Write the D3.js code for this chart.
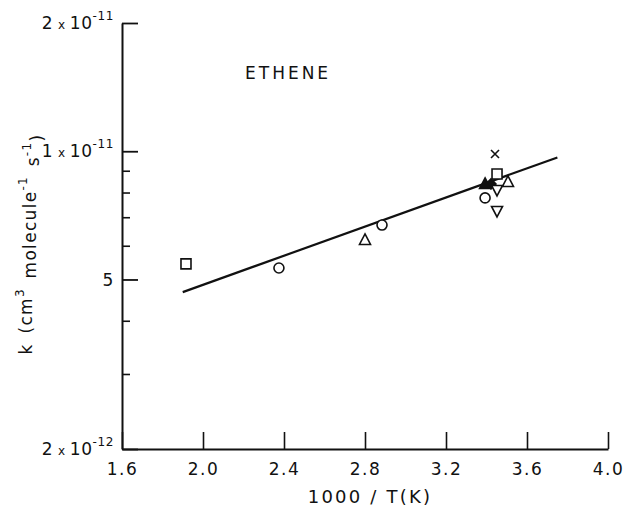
<!DOCTYPE html>
<html>
<head>
<meta charset="utf-8">
<script src="https://cdn.jsdelivr.net/npm/d3@7/dist/d3.min.js"></script>
<style>
  html, body { margin: 0; padding: 0; background: #fff; }
  svg { display: block; }
  text { font-family: "DejaVu Sans", sans-serif; fill: #111; }
</style>
</head>
<body>
<svg id="chart" width="639" height="508"></svg>
<script>
// Rate constants for OH + ethene versus inverse temperature
const invT   = [1.916, 2.375, 2.80, 2.884, 3.442, 3.452, 3.506, 3.393, 3.422, 3.452, 3.393, 3.452];
const kValue = [5.44e-12, 5.32e-12, 6.19e-12, 6.71e-12, 9.85e-12, 8.84e-12, 8.47e-12, 8.38e-12, 8.38e-12, 8.11e-12, 7.77e-12, 7.24e-12];
const marker = ["square", "circle", "triangle", "circle", "cross", "square", "triangle", "triangleFilled", "diamondFilled", "triangleDown", "circle", "triangleDown"];

// Least-squares Arrhenius line end points
const fitX = [1.90, 3.75];
const fitK = [4.67e-12, 9.67e-12];

const xTicks = [1.6, 2.0, 2.4, 2.8, 3.2, 3.6, 4.0];
const xTickLabels = ["1.6", "2.0", "2.4", "2.8", "3.2", "3.6", "4.0"];
const yMajor = [2e-11, 1e-11, 5e-12, 2e-12];
const yMinor = [9e-12, 8e-12, 7e-12, 6e-12, 4e-12, 3e-12];
const yLabels = [
  {v: 2e-11, m: "2", e: "-11"},
  {v: 1e-11, m: "1", e: "-11"},
  {v: 5e-12, m: "5", e: null},
  {v: 2e-12, m: "2", e: "-12"}
];

const svg = d3.select("#chart");
const x = d3.scaleLinear().domain([1.6, 4.0]).range([122, 608]);
const y = d3.scaleLog().domain([2e-12, 2e-11]).range([449, 23]);

// Axes: ticks point into the plot
const xAxis = d3.axisBottom(x).tickValues(xTicks)
  .tickFormat((d, i) => xTickLabels[i]).tickSize(-17).tickSizeOuter(0).tickPadding(14);
const gx = svg.append("g").attr("transform", "translate(0,449)").call(xAxis);
gx.select(".domain").attr("stroke", "#111").attr("stroke-width", 2);
gx.selectAll(".tick line").attr("stroke", "#111").attr("stroke-width", 1.6);
gx.selectAll(".tick text").attr("font-size", 17).attr("letter-spacing", 1.5)
  .style("font-family", "DejaVu Sans, sans-serif").attr("fill", "#111");

const yAxis = d3.axisRight(y).tickValues(yMajor).tickFormat("").tickSize(16).tickSizeOuter(0);
const gy = svg.append("g").attr("transform", "translate(122,0)").call(yAxis);
gy.select(".domain").attr("stroke", "#111").attr("stroke-width", 2);
gy.selectAll(".tick line").attr("stroke", "#111").attr("stroke-width", 1.8);

const yAxisMinor = d3.axisRight(y).tickValues(yMinor).tickFormat("").tickSize(8).tickSizeOuter(0);
const gy2 = svg.append("g").attr("transform", "translate(122,0)").call(yAxisMinor);
gy2.select(".domain").remove();
gy2.selectAll(".tick line").attr("stroke", "#111").attr("stroke-width", 1.6);

// Y tick labels in "m x 10^e" form
yLabels.forEach(l => {
  const t = svg.append("text")
    .attr("x", 114).attr("y", y(l.v)).attr("dy", "0.36em")
    .attr("text-anchor", "end").attr("font-size", 17).attr("letter-spacing", 0.6);
  t.append("tspan").text(l.m);
  if (l.e) {
    t.append("tspan").attr("font-size", 12).attr("dx", 5).text("x");
    t.append("tspan").attr("dx", 4).text("10");
    t.append("tspan").attr("font-size", 12).attr("dy", "-0.75em").text(l.e);
  }
});

// Axis titles
svg.append("text")
  .attr("x", 370).attr("y", 497).attr("dy", "0.36em")
  .attr("text-anchor", "middle").attr("font-size", 18).attr("letter-spacing", 2.2)
  .text("1000 / T(K)");

const yt = svg.append("text")
  .attr("transform", "translate(32,244) rotate(-90)")
  .attr("text-anchor", "middle").attr("font-size", 17).attr("letter-spacing", 1.3)
  .attr("word-spacing", 3);
yt.append("tspan").text("k (cm");
yt.append("tspan").attr("font-size", 12).attr("dy", "-0.7em").text("3");
yt.append("tspan").attr("dy", "0.7em").text(" molecule");
yt.append("tspan").attr("font-size", 12).attr("dy", "-0.7em").text("-1");
yt.append("tspan").attr("dy", "0.7em").text(" s");
yt.append("tspan").attr("font-size", 12).attr("dy", "-0.7em").text("-1");
yt.append("tspan").attr("dy", "0.7em").text(")");

// Panel label
svg.append("text")
  .attr("x", 245).attr("y", 73).attr("dy", "0.36em")
  .attr("font-size", 17).attr("letter-spacing", 3)
  .text("ETHENE");

// Fitted line
svg.append("line")
  .attr("x1", x(fitX[0])).attr("y1", y(fitK[0]))
  .attr("x2", x(fitX[1])).attr("y2", y(fitK[1]))
  .attr("stroke", "#111").attr("stroke-width", 2.2);

// Data markers
const s = 5; // half size
function markerPath(type) {
  switch (type) {
    case "square": return `M${-s},${-s}H${s}V${s}H${-s}Z`;
    case "circle": return `M${s},0A${s},${s} 0 1,1 ${-s},0A${s},${s} 0 1,1 ${s},0Z`;
    case "triangle":
    case "triangleFilled": return `M0,${-s - 1}L${s + 0.5},${s - 0.5}L${-s - 0.5},${s - 0.5}Z`;
    case "triangleDown": return `M0,${s + 1}L${s + 0.5},${-s + 0.5}L${-s - 0.5},${-s + 0.5}Z`;
    case "diamondFilled": return `M0,${-s}L${s},0L0,${s}L${-s},0Z`;
    case "cross": return `M${-4},${-4}L4,4M4,${-4}L${-4},4`;
  }
}
const pts = invT.map((v, i) => ({x: v, k: kValue[i], m: marker[i]}));
svg.append("g").selectAll("path").data(pts).join("path")
  .attr("transform", d => `translate(${x(d.x)},${y(d.k)})`)
  .attr("d", d => markerPath(d.m))
  .attr("fill", d => d.m.endsWith("Filled") ? "#111" : (d.m === "cross" ? "none" : "#fff"))
  .attr("stroke", "#111").attr("stroke-width", 1.6);
</script>
</body>
</html>
